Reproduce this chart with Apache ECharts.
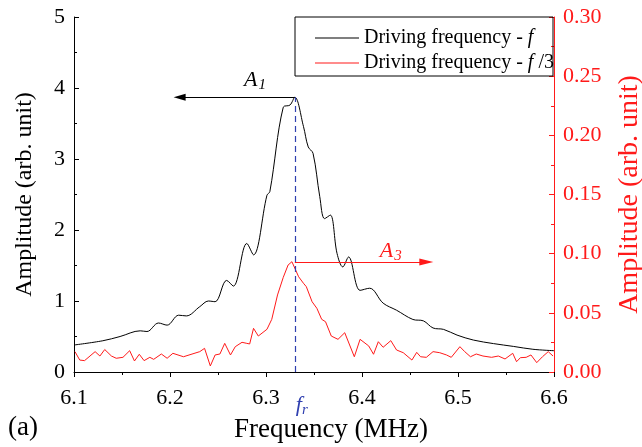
<!DOCTYPE html>
<html><head><meta charset="utf-8">
<script src="https://cdn.jsdelivr.net/npm/echarts@6/dist/echarts.min.js"></script>
<style>html,body{margin:0;padding:0;background:#fff}#c{width:642px;height:447px}</style>
</head><body><div id="c"></div>
<script>
var freqBlack = [6.100,6.130,6.148,6.169,6.176,6.188,6.197,6.209,6.217,6.231,6.240,6.247,6.259,6.266,6.280,6.287,6.301,6.304,6.318,6.325,6.330,6.339,6.344,6.349,6.356,6.361,6.367,6.374,6.380,6.386,6.398,6.408,6.422,6.436,6.453,6.464,6.474,6.485,6.499,6.516,6.537,6.558,6.578,6.600];
var ampBlack = [0.38,0.44,0.50,0.58,0.57,0.69,0.66,0.80,0.79,0.92,1.00,0.99,1.29,1.21,1.81,1.65,2.49,2.54,3.73,3.76,3.87,3.46,3.17,3.08,2.47,2.16,2.21,1.67,1.48,1.62,1.15,1.18,0.97,0.87,0.74,0.72,0.62,0.60,0.52,0.45,0.40,0.36,0.32,0.30];
var freqRed = [6.101,6.106,6.111,6.122,6.127,6.132,6.139,6.144,6.151,6.158,6.163,6.168,6.173,6.179,6.183,6.191,6.197,6.203,6.214,6.231,6.236,6.242,6.247,6.252,6.257,6.263,6.268,6.275,6.280,6.283,6.287,6.292,6.301,6.306,6.312,6.318,6.323,6.327,6.334,6.339,6.342,6.348,6.353,6.358,6.362,6.368,6.375,6.382,6.392,6.398,6.407,6.412,6.417,6.422,6.430,6.436,6.443,6.452,6.457,6.461,6.467,6.474,6.481,6.488,6.493,6.502,6.507,6.513,6.519,6.526,6.535,6.542,6.549,6.557,6.561,6.565,6.571,6.576,6.582,6.588,6.594,6.599];
var ampRed = [0.0172,0.0101,0.0096,0.0172,0.0135,0.0190,0.0135,0.0116,0.0124,0.0180,0.0093,0.0150,0.0096,0.0124,0.0107,0.0152,0.0116,0.0158,0.0129,0.0172,0.0200,0.0051,0.0144,0.0152,0.0242,0.0144,0.0214,0.0251,0.0242,0.0237,0.0369,0.0304,0.0361,0.0445,0.0651,0.0800,0.0904,0.0932,0.0805,0.0750,0.0721,0.0594,0.0538,0.0445,0.0425,0.0304,0.0276,0.0332,0.0129,0.0276,0.0220,0.0150,0.0256,0.0209,0.0265,0.0186,0.0163,0.0101,0.0166,0.0129,0.0124,0.0172,0.0163,0.0144,0.0124,0.0214,0.0172,0.0129,0.0152,0.0135,0.0124,0.0135,0.0110,0.0158,0.0087,0.0121,0.0124,0.0144,0.0079,0.0129,0.0172,0.0135];
var resonance = 6.33;
var peakA1 = 3.87;
var peakA3 = 0.093;
var arrowA1End = 6.21;
var arrowA3End = 6.467;

var FONT = 'Liberation Serif';
var RED = '#ff1a1a';
var BLUE = '#3040b0';
function zip(a,b){return a.map(function(v,i){return [v,b[i]];});}

var chart = echarts.init(document.getElementById('c'));
chart.setOption({
  animation:false,
  backgroundColor:'#fff',
  grid:{left:74,right:88,top:17,bottom:75,containLabel:false,outerBoundsMode:'none'},
  xAxis:{type:'value',min:6.1,max:6.6,interval:0.1,
    name:'Frequency (MHz)',nameLocation:'middle',nameGap:44,
    nameTextStyle:{fontFamily:FONT,fontSize:27,color:'#000',padding:[0,0,0,34]},
    axisLine:{lineStyle:{color:'#000',width:1}},
    axisTick:{inside:false,length:5,lineStyle:{color:'#000'}},
    minorTick:{show:true,splitNumber:2,length:3,lineStyle:{color:'#000'}},
    splitLine:{show:false},
    axisLabel:{fontFamily:FONT,fontSize:22,color:'#000',margin:15,formatter:function(v){return v.toFixed(1);}}
  },
  yAxis:[{type:'value',min:0,max:5,interval:1,position:'left',
    name:'Amplitude (arb. unit)',nameLocation:'middle',nameGap:37,
    nameTextStyle:{fontFamily:FONT,fontSize:24,color:'#000'},
    axisLine:{show:true,lineStyle:{color:'#000'}},
    axisTick:{inside:true,length:5,lineStyle:{color:'#000'}},
    minorTick:{show:true,splitNumber:2,length:3,lineStyle:{color:'#000'}},
    splitLine:{show:false},
    axisLabel:{fontFamily:FONT,fontSize:22,color:'#000',margin:9}
  },{type:'value',min:0,max:0.3,interval:0.05,position:'right',
    name:'Amplitude (arb. unit)',nameLocation:'middle',nameGap:62,
    nameTextStyle:{fontFamily:FONT,fontSize:28,color:RED},
    axisLine:{show:true,lineStyle:{color:RED}},
    axisTick:{inside:true,length:5,lineStyle:{color:RED}},
    minorTick:{show:true,splitNumber:2,length:3,lineStyle:{color:RED}},
    splitLine:{show:false},
    axisLabel:{fontFamily:FONT,fontSize:22,color:RED,margin:9,formatter:function(v){return v.toFixed(2);}}
  }],
  legend:{orient:'vertical',left:310,top:23,itemGap:5,itemWidth:44,itemHeight:1,icon:'rect',
    data:['f','f3'],
    textStyle:{fontFamily:FONT,fontSize:20,color:'#000',rich:{i:{fontFamily:FONT,fontSize:20,fontStyle:'italic',color:'#000'}}},
    formatter:function(n){return n==='f'?'Driving frequency - {i|f}':'Driving frequency - {i|f} /3';}
  },
  graphic:[
    {type:'rect',shape:{x:295,y:17,width:258,height:59},style:{fill:null,stroke:'#000',lineWidth:1},z:100},
    {type:'text',left:8,top:414,style:{text:'(a)',font:'27px "Liberation Serif"',fill:'#000'}}
  ],
  series:[
    {name:'f',type:'line',yAxisIndex:0,data:zip(freqBlack,ampBlack),smooth:0.35,showSymbol:false,symbol:'none',
      lineStyle:{color:'#000',width:1},itemStyle:{color:'#000'},z:3,
      markLine:{silent:true,symbol:['none','none'],label:{show:false},animation:false,
        data:[
          [{coord:[resonance,peakA1],symbol:'none',lineStyle:{color:'#000',width:1,type:'solid'}},{coord:[arrowA1End,peakA1],symbol:'triangle',symbolSize:[7,12],symbolRotate:90}],
          [{coord:[resonance,0],symbol:'none',lineStyle:{color:BLUE,width:1.2,type:[6,4]}},{coord:[resonance,peakA1],symbol:'none'}]
        ]},
      markPoint:{silent:true,symbol:'circle',symbolSize:0,
        data:[
          {coord:[6.2885,4.11],label:{show:true,formatter:'{a|A}{s|1}',rich:{a:{fontFamily:FONT,fontSize:22,fontStyle:'italic',color:'#000'},s:{fontFamily:FONT,fontSize:15,fontStyle:'italic',color:'#000',verticalAlign:'bottom',padding:[10,0,0,1]}}}},
          {coord:[resonance,0],label:{show:true,offset:[7,33],formatter:'{a|f}{s|r}',rich:{a:{fontFamily:FONT,fontSize:22,fontStyle:'italic',color:BLUE},s:{fontFamily:FONT,fontSize:15,fontStyle:'italic',color:BLUE,padding:[10,0,0,0]}}}}
        ]}
    },
    {name:'f3',type:'line',yAxisIndex:1,data:zip(freqRed,ampRed),smooth:false,showSymbol:false,symbol:'none',
      lineStyle:{color:RED,width:1},itemStyle:{color:RED},z:2,
      markLine:{silent:true,symbol:['none','none'],label:{show:false},animation:false,
        data:[
          [{coord:[resonance,peakA3],symbol:'none',lineStyle:{color:RED,width:1.2,type:'solid'}},{coord:[arrowA3End,peakA3],symbol:'triangle',symbolSize:[7,14],symbolRotate:-90}]
        ]},
      markPoint:{silent:true,symbol:'circle',symbolSize:0,
        data:[
          {coord:[6.43,0.102],label:{show:true,formatter:'{a|A}{s|3}',rich:{a:{fontFamily:FONT,fontSize:22,fontStyle:'italic',color:RED},s:{fontFamily:FONT,fontSize:15,fontStyle:'italic',color:RED,padding:[10,0,0,1]}}}}
        ]}
    }
  ]
});
</script></body></html>
